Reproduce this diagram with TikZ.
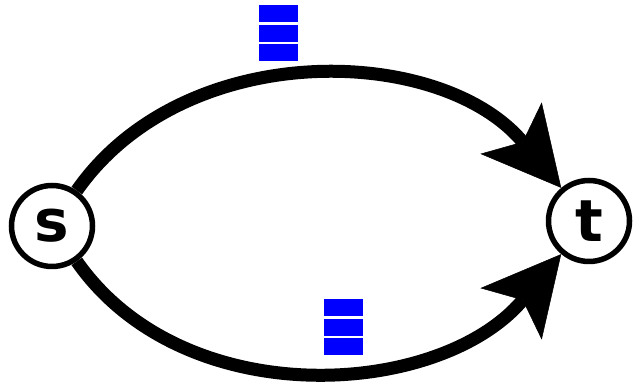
\documentclass[tikz,border=0pt]{standalone}
\usepackage{fontspec}
\setsansfont{DejaVu Sans}
\usetikzlibrary{arrows.meta,positioning}
\tikzset{
  vertex/.style={circle,draw,line width=5.5pt,minimum size=81pt,inner sep=0pt,
    font=\sffamily\bfseries\fontsize{58}{58}\selectfont},
  edge/.style={line width=13pt,
    -{Stealth[length=78pt,width=80pt,inset=18pt,line width=0.5pt]}},
  unit/.style={fill=blue,minimum width=39pt,minimum height=17pt,inner sep=0pt}
}
\begin{document}
\begin{tikzpicture}[x=1pt,y=1pt]
\useasboundingbox (0,0) rectangle (634,382);

\node[vertex] (s) at (52,156) {s};
\node[vertex] (t) at (589,161) {t};

\draw[edge] (s) to[out=55,in=130,looseness=0.99] (t);
\draw[edge] (s) to[out=-55,in=-130,looseness=0.99] (t);

\node[unit] (u1) at (278.5,368) {};
\node[unit,below=2pt of u1] (u2) {};
\node[unit,below=2pt of u2] (u3) {};

\node[unit] (l1) at (343.5,74) {};
\node[unit,below=2pt of l1] (l2) {};
\node[unit,below=2pt of l2] (l3) {};
\end{tikzpicture}
\end{document}
